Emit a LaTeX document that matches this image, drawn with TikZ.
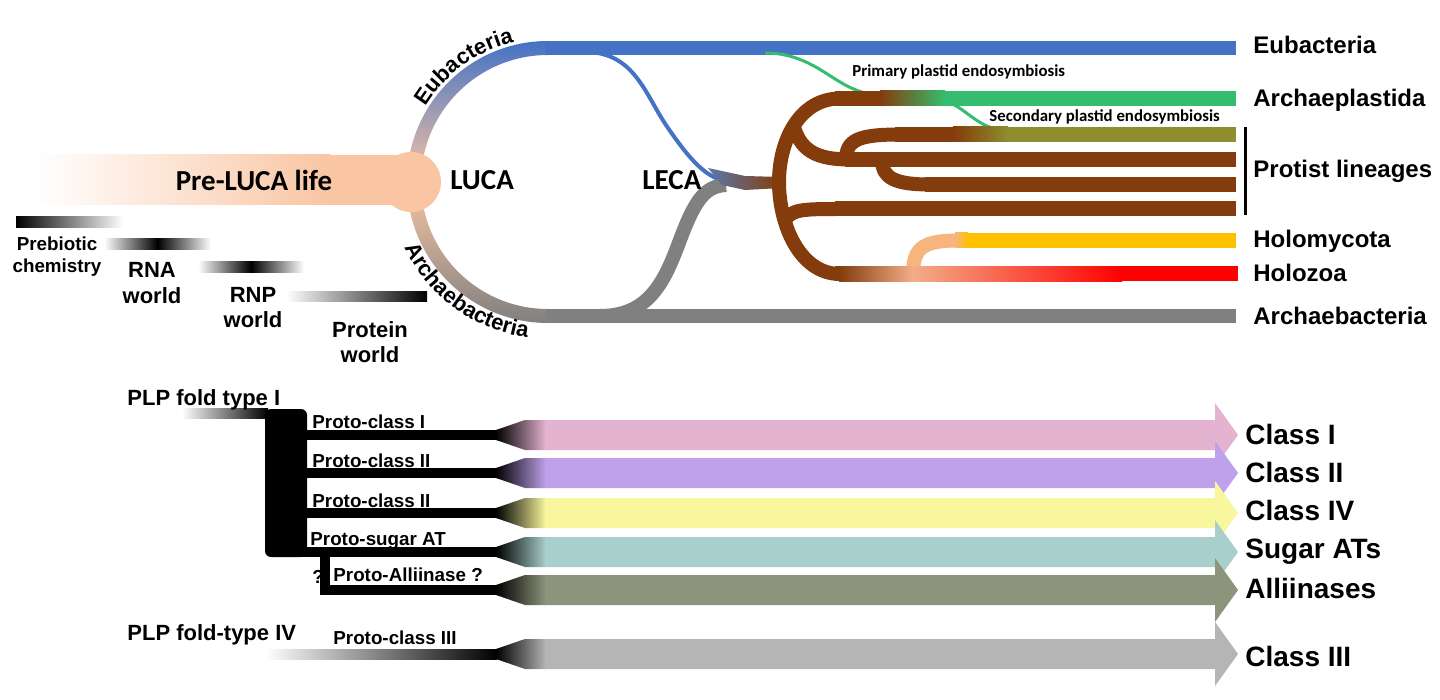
\documentclass[tikz,border=0pt]{standalone}
\usepackage{fontspec}
\setmainfont{Liberation Sans}
\newfontfamily\calibri{Carlito}
\usetikzlibrary{calc,decorations.text}

\definecolor{eublue}{HTML}{4472C4}
\definecolor{archgray}{HTML}{808080}
\definecolor{peach}{HTML}{F9C5A2}
\definecolor{plastgreen}{HTML}{35BD6F}
\definecolor{protbrown}{HTML}{843C0C}
\definecolor{protolive}{HTML}{8E8E2E}
\definecolor{mycoyellow}{HTML}{FFC000}
\definecolor{zoared}{HTML}{FF0000}
\definecolor{lightorange}{HTML}{F6B57C}
\definecolor{zoapeach}{HTML}{F2AE88}
\definecolor{clpink}{HTML}{E4B3D0}
\definecolor{clpurple}{HTML}{BFA1EB}
\definecolor{clyellow}{HTML}{F9F79D}
\definecolor{clteal}{HTML}{A9CFCC}
\definecolor{clolive}{HTML}{8D947C}
\definecolor{clgray}{HTML}{B5B5B5}

\def\colbar(#1:#2:#3)[#4:#5]{\shade[left color=#4, right color=#5] (#1,#3-7.5) rectangle (#2,#3+7.5);}
\def\classarrow(#1)[#2]{%
	\shade[left color=black, right color=#2] (496,#1-5) -- (525,#1-15) -- (546,#1-15) -- (546,#1+15) -- (525,#1+15) -- (496,#1+5) -- cycle;
	\fill[#2] (545,#1-15) -- (1215,#1-15) -- (1215,#1-32) -- (1238,#1) -- (1215,#1+32) -- (1215,#1+15) -- (545,#1+15) -- cycle;}

\begin{document}
\begin{tikzpicture}[x=0.5pt, y=-0.5pt,
	lab/.style={font=\bfseries\fontsize{12}{14}\selectfont, inner sep=0pt},
	biglab/.style={font=\bfseries\fontsize{14}{16}\selectfont, inner sep=0pt},
	protolab/.style={font=\bfseries\fontsize{9.4}{11}\selectfont, inner sep=0pt},
	worldlab/.style={font=\bfseries\fontsize{11}{13}\selectfont, inner sep=0pt},
	chemlab/.style={font=\bfseries\fontsize{9.4}{11}\selectfont, inner sep=0pt},
	callab/.style={font=\calibri\bfseries\fontsize{14.5}{16}\selectfont, inner sep=0pt},
	plastlab/.style={font=\calibri\bfseries\fontsize{8.4}{10}\selectfont, inner sep=0pt}]
			%%%%% START %%%%%
			\useasboundingbox[fill=white] (0,0) rectangle (1440,700);
			\coordinate (loop) at (548,182);
			
			%%%%% LUCA loop %%%%%
			\shade[top color=eublue, bottom color=peach] ($(loop)+(180:141)$) arc[start angle=180, end angle=270, radius=141] -- ($(loop)+(270:127)$) arc[start angle=270, end angle=180, radius=127] -- cycle;
			\shade[top color=peach, bottom color=archgray] ($(loop)+(180:141)$) arc[start angle=180, end angle=90, radius=141] -- ($(loop)+(90:127)$) arc[start angle=90, end angle=180, radius=127] -- cycle;
			\fill[eublue] (546,41) rectangle (1236,55);
			\fill[archgray] (546,309) rectangle (1236,323);
			
			\draw[eublue, line width=2pt] (585,52) .. controls (635,52) and (645,95) .. (668,128) .. controls (690,160) and (705,176) .. (724,181);
			\draw[archgray, line width=7pt] (600,316) .. controls (650,316) and (665,280) .. (680,240) .. controls (695,200) and (705,186) .. (726,185);
			\shade[left color=eublue!60!archgray, right color=protbrown] (708,168) -- (745,176) -- (781,177) -- (781,188) -- (745,190) -- (722,185) -- cycle;
			
			%%%%% plastids %%%%%
			\draw[plastgreen, line width=1.5pt] (765,53) .. controls (800,53) and (820,70) .. (840,82) .. controls (855,91) and (868,95) .. (888,97);
			\draw[plastgreen, line width=1.5pt] (945,102) .. controls (962,104) and (975,126) .. (1000,130);
			
			%%%%% eukaryotes %%%%%
			\draw[protbrown, line width=7pt] (840,98.5) .. controls (800,98.5) and (779,140) .. (779,182) .. controls (779,225) and (800,274) .. (840,274);
			\draw[protbrown, line width=7pt] (793,124) .. controls (800,150) and (815,159.5) .. (850,159.5);
			\draw[protbrown, line width=7pt] (846,160) .. controls (846,140) and (858,134.5) .. (900,134.5);
			\draw[protbrown, line width=7pt] (882,160) .. controls (882,178) and (895,184.5) .. (930,184.5);
			\draw[protbrown, line width=7pt] (785,221) .. controls (790,209) and (805,209) .. (840,209);
			\draw[lightorange, line width=7pt] (913,274) .. controls (913,246) and (925,240.5) .. (960,240.5);
			
			\fill[protbrown] (835,91) rectangle (881,106);
			\colbar(880:945:98.5)[protbrown:plastgreen]
			\fill[plastgreen] (944,91) rectangle (1236,106);
			\fill[protbrown] (895,127) rectangle (954,142);
			\colbar(953:1008:134.5)[protbrown:protolive]
			\fill[protolive] (1007,127) rectangle (1236,142);
			\fill[protbrown] (845,152) rectangle (1236,167);
			\fill[protbrown] (925,177) rectangle (1236,192);
			\fill[protbrown] (835,201.5) rectangle (1236,216.5);
			\colbar(955:968:240.5)[lightorange:mycoyellow]
			\fill[mycoyellow] (967,233) rectangle (1236,248);
			\fill[protbrown] (835,266.5) rectangle (840,281.5);
			\colbar(839:913:274)[protbrown:zoapeach]
			\colbar(912:1122:274)[zoapeach:zoared]
			\fill[zoared] (1121,266.5) rectangle (1238,281.5);
			\draw[line width=1.5pt] (1245,127) -- (1245,215);
			
			%%%%% pre-LUCA %%%%%
			\shade[left color=white, right color=peach] (36,155) rectangle (330,205);
			\fill[peach] (329,155) rectangle (414,205);
			\fill[peach] (411,182) circle (30);
			
			\node[callab, anchor=base] (preluca) at (254,191) {Pre-LUCA life};
			\node[callab, anchor=base west] (luca) at (450,190) {LUCA};
			\node[callab, anchor=base west] (leca) at (642,190) {LECA};
			\node[plastlab, anchor=base west] (primary) at (852,77) {Primary plastid endosymbiosis};
			\node[plastlab, anchor=base west] (secondary) at (989,122) {Secondary plastid endosymbiosis};
			
			\path[decorate, decoration={text along path, text={|\bfseries\fontsize{11}{13}\selectfont|Eubacteria}, text align=center}] ($(loop)+(208:144)$) arc[start angle=208, end angle=260, radius=144];
			\path[decorate, decoration={text along path, text={|\bfseries\fontsize{11}{13}\selectfont|Archaebacteria}, text align=center}] ($(loop)+(165:157)$) arc[start angle=165, end angle=88, radius=157];
			
			\node[lab, anchor=base west] (eub) at (1253,54) {Eubacteria};
			\node[lab, anchor=base west] (archpl) at (1253,107) {Archaeplastida};
			\node[lab, anchor=base west] (protist) at (1253,178) {Protist lineages};
			\node[lab, anchor=base west] (holomyc) at (1253,248) {Holomycota};
			\node[lab, anchor=base west] (holozoa) at (1253,282) {Holozoa};
			\node[lab, anchor=base west] (archb) at (1253,324) {Archaebacteria};
			
			%%%%% worlds %%%%%
			\shade[left color=black, right color=white] (16,217) rectangle (123,228);
			\shade[left color=white, right color=white, middle color=black] (104,239) rectangle (211,250);
			\shade[left color=white, right color=white, middle color=black] (198,262) rectangle (304,273);
			\shade[left color=white, right color=black] (286,292) rectangle (427,302);
			
			\node[chemlab, anchor=base] (prebio) at (57,250) {Prebiotic};
			\node[chemlab, anchor=base] (chem) at (57,272) {chemistry};
			\node[worldlab, anchor=base] (rna) at (152,278) {RNA};
			\node[worldlab, anchor=base] (rnaw) at (152,303) {world};
			\node[worldlab, anchor=base] (rnp) at (253,302) {RNP};
			\node[worldlab, anchor=base] (rnpw) at (253,328) {world};
			\node[worldlab, anchor=base] (prot) at (370,337) {Protein};
			\node[worldlab, anchor=base] (protw) at (370,362) {world};
			
			%%%%% PLP folds %%%%%
			\shade[left color=white, right color=black] (182,408) rectangle (268,418);
			\fill[rounded corners=3pt] (265,409) rectangle (307,557);
			\fill (300,430) rectangle (497,440);
			\fill (300,468) rectangle (497,478);
			\fill (300,508) rectangle (497,518);
			\fill (300,547) rectangle (497,557);
			\fill (320,552) rectangle (330,595);
			\fill (320,585) rectangle (497,595);
			\shade[left color=white, right color=black] (265,649) rectangle (497,659);
			
			\classarrow(435)[clpink]
			\classarrow(473)[clpurple]
			\classarrow(513)[clyellow]
			\classarrow(552)[clteal]
			\classarrow(590)[clolive]
			\classarrow(654)[clgray]
			
			\node[worldlab, anchor=base west] (fold1) at (127,405) {PLP fold type I};
			\node[worldlab, anchor=base west] (fold4) at (127,640) {PLP fold-type IV};
			\node[protolab, anchor=base west] (pc1) at (312,428) {Proto-class I};
			\node[protolab, anchor=base west] (pc2) at (312,467) {Proto-class II};
			\node[protolab, anchor=base west] (pc2b) at (312,507) {Proto-class II};
			\node[protolab, anchor=base west] (psug) at (310,545) {Proto-sugar AT};
			\node[protolab, anchor=base west] (qmark) at (312,583) {?};
			\node[protolab, anchor=base west] (pall) at (333,581) {Proto-Alliinase ?};
			\node[protolab, anchor=base west] (pc3) at (333,644) {Proto-class III};
			
			\node[biglab, anchor=base west] (c1) at (1245,444) {Class I};
			\node[biglab, anchor=base west] (c2) at (1245,482) {Class II};
			\node[biglab, anchor=base west] (c4) at (1245,520) {Class IV};
			\node[biglab, anchor=base west] (sug) at (1245,558) {Sugar ATs};
			\node[biglab, anchor=base west] (all) at (1245,598) {Alliinases};
			\node[biglab, anchor=base west] (c3) at (1245,666) {Class III};
			%%%%% END %%%%%
\end{tikzpicture}
\end{document}
